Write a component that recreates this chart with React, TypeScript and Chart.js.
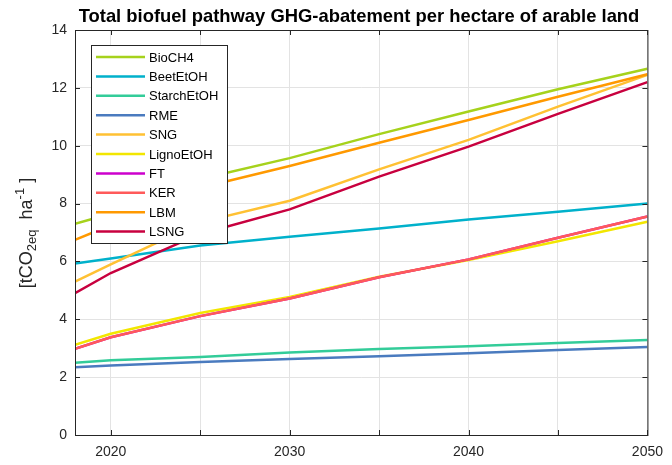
import React, { useEffect, useRef } from "react";
import { Chart, registerables } from "chart.js";

Chart.register(...registerables);

const years = [2018, 2020, 2025, 2030, 2035, 2040, 2045, 2050];
const seriesNames = ["BioCH4", "BeetEtOH", "StarchEtOH", "RME", "SNG", "LignoEtOH", "FT", "KER", "LBM", "LSNG"];
const seriesColors = ["#A6D21C", "#00B1CB", "#33CC99", "#4A7BBF", "#FFC133", "#F2E600", "#CC00CC", "#FF5A5A", "#FF9900", "#C8003F"];

const bioCH4 = [7.3, 7.65, 8.85, 9.57, 10.4, 11.18, 11.95, 12.66];
const beetEtOH = [5.93, 6.1, 6.55, 6.85, 7.14, 7.45, 7.72, 8.0];
const starchEtOH = [2.5, 2.58, 2.7, 2.85, 2.97, 3.07, 3.18, 3.28];
const rme = [2.34, 2.4, 2.52, 2.63, 2.72, 2.83, 2.94, 3.04];
const sng = [5.3, 5.9, 7.35, 8.1, 9.18, 10.2, 11.35, 12.45];
const lignoEtOH = [3.12, 3.5, 4.22, 4.77, 5.47, 6.05, 6.7, 7.37];
const ft = [2.98, 3.38, 4.11, 4.72, 5.45, 6.07, 6.82, 7.55];
const ker = [2.98, 3.38, 4.11, 4.72, 5.45, 6.07, 6.82, 7.55];
const lbm = [6.75, 7.25, 8.55, 9.3, 10.1, 10.89, 11.69, 12.47];
const lsng = [4.9, 5.6, 6.95, 7.8, 8.93, 9.97, 11.1, 12.2];

const seriesValues = [bioCH4, beetEtOH, starchEtOH, rme, sng, lignoEtOH, ft, ker, lbm, lsng];

const xTicks = [2020, 2030, 2040, 2050];
const yTicks = [0, 2, 4, 6, 8, 10, 12, 14];

const titleText = "Total biofuel pathway GHG-abatement per hectare of arable land";

const FONT = "'Liberation Sans', Arial, Helvetica, sans-serif";

const decorPlugin = {
  id: "decor",
  afterDatasetsDraw(chart: any) {
    const ctx = chart.ctx as CanvasRenderingContext2D;
    const { left, right, top, bottom } = chart.chartArea;
    const xs = chart.scales.x;
    const ys = chart.scales.y;
    ctx.save();
    // box
    ctx.strokeStyle = "#262626";
    ctx.lineWidth = 1;
    ctx.strokeRect(left + 0.5, top + 0.5, right - left, bottom - top);
    // inward ticks
    const tl = 5;
    ctx.beginPath();
    for (const t of xs.ticks) {
      const px = Math.round(xs.getPixelForValue(t.value)) + 0.5;
      ctx.moveTo(px, bottom);
      ctx.lineTo(px, bottom - tl);
      ctx.moveTo(px, top);
      ctx.lineTo(px, top + tl);
    }
    for (const t of ys.ticks) {
      const py = Math.round(ys.getPixelForValue(t.value)) + 0.5;
      ctx.moveTo(left, py);
      ctx.lineTo(left + tl, py);
      ctx.moveTo(right, py);
      ctx.lineTo(right - tl, py);
    }
    ctx.stroke();

    // legend
    const lx = 91, ly = 45, lw = 136, lh = 198;
    ctx.fillStyle = "#ffffff";
    ctx.fillRect(lx, ly, lw, lh);
    ctx.strokeStyle = "#262626";
    ctx.strokeRect(lx + 0.5, ly + 0.5, lw, lh);
    ctx.font = `13px ${FONT}`;
    ctx.textBaseline = "middle";
    ctx.textAlign = "left";
    chart.data.datasets.forEach((ds: any, i: number) => {
      const y = ly + 12 + i * 19.4;
      ctx.strokeStyle = ds.borderColor;
      ctx.lineWidth = 2.5;
      ctx.beginPath();
      ctx.moveTo(lx + 5, y);
      ctx.lineTo(lx + 54, y);
      ctx.stroke();
      ctx.fillStyle = "#000000";
      ctx.fillText(ds.label, lx + 58, y + 1);
    });

    // title
    ctx.fillStyle = "#000000";
    ctx.font = `bold 18.4px ${FONT}`;
    ctx.textAlign = "center";
    ctx.textBaseline = "alphabetic";
    ctx.fillText(titleText, 359, 22);

    // y axis title with sub/superscript
    ctx.translate(27, 233);
    ctx.rotate(-Math.PI / 2);
    const big = `18px ${FONT}`;
    const small = `13px ${FONT}`;
    const parts: [string, string, number][] = [
      ["[tCO", big, 0],
      ["2eq", small, 5],
      ["  ha", big, 0],
      ["-1", small, -7],
      [" ]", big, 0],
    ];
    let total = 0;
    for (const [t, f] of parts) {
      ctx.font = f;
      total += ctx.measureText(t).width;
    }
    let x = -total / 2;
    ctx.textAlign = "left";
    ctx.textBaseline = "middle";
    ctx.fillStyle = "#262626";
    for (const [t, f, dy] of parts) {
      ctx.font = f;
      ctx.fillText(t, x, dy);
      x += ctx.measureText(t).width;
    }
    ctx.restore();
  },
};

export default function App() {
  const ref = useRef<HTMLCanvasElement | null>(null);
  useEffect(() => {
    document.body.style.margin = "0";
    const canvas = ref.current!;
    const chart = new Chart(canvas, {
      type: "line",
      data: {
        datasets: seriesNames.map((name, i) => ({
          label: name,
          data: years.map((y, j) => ({ x: y, y: seriesValues[i][j] })),
          borderColor: seriesColors[i],
          backgroundColor: seriesColors[i],
          borderWidth: 2.5,
          pointRadius: 0,
          tension: 0,
          fill: false,
          order: 20 - i,
        })),
      },
      options: {
        responsive: false,
        animation: false,
        devicePixelRatio: 1,
        layout: { padding: { left: 0, right: 16, top: 30, bottom: 0 } },
        plugins: {
          legend: { display: false },
          title: { display: false },
          tooltip: { enabled: false },
        },
        scales: {
          x: {
            type: "linear",
            min: 2018,
            max: 2050,
            afterBuildTicks: (scale: any) => {
              scale.ticks = [2020, 2025, 2030, 2035, 2040, 2045, 2050].map((v) => ({ value: v }));
            },
            afterFit: (scale: any) => {
              scale.height = 30;
            },
            ticks: {
              autoSkip: false,
              maxRotation: 0,
              padding: 9,
              color: "#262626",
              font: { family: FONT, size: 14 },
              callback: (v: any) => (xTicks.includes(Number(v)) ? String(v) : ""),
            },
            grid: { color: "#E3E3E3", drawTicks: false, lineWidth: 1 },
            border: { display: false },
          },
          y: {
            type: "linear",
            min: 0,
            max: 14,
            afterBuildTicks: (scale: any) => {
              scale.ticks = yTicks.map((v) => ({ value: v }));
            },
            afterFit: (scale: any) => {
              scale.width = 75;
            },
            ticks: {
              padding: 8,
              color: "#262626",
              font: { family: FONT, size: 14 },
              callback: (v: any) => String(v),
            },
            grid: { color: "#E3E3E3", drawTicks: false, lineWidth: 1 },
            border: { display: false },
          },
        },
      },
      plugins: [decorPlugin],
    });
    return () => chart.destroy();
  }, []);
  return (
    <div style={{ position: "absolute", left: 0, top: 0, width: 672, height: 465, background: "#fff" }}>
      <canvas ref={ref} width={672} height={465} style={{ width: 672, height: 465 }} />
    </div>
  );
}
